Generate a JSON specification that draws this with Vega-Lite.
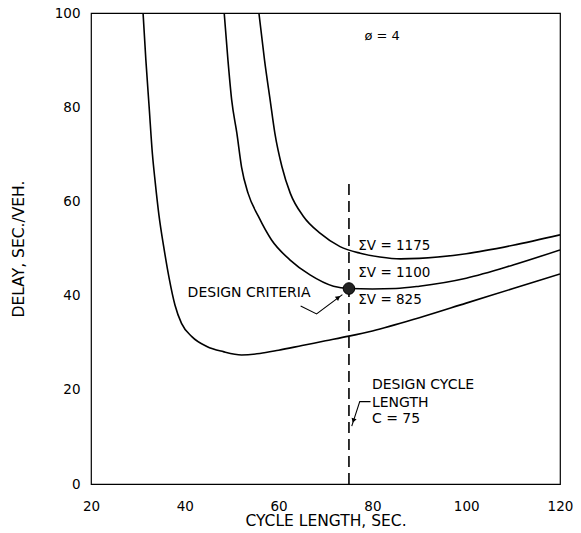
{
  "$schema": "https://vega.github.io/schema/vega-lite/v6.json",
  "width": 469,
  "height": 471,
  "autosize": "none",
  "padding": {"left": 91, "top": 13, "right": 21, "bottom": 49},
  "background": "white",
  "config": {
    "view": {"stroke": "black", "strokeWidth": 1.2},
    "axis": {
      "domain": false,
      "grid": false,
      "ticks": false,
      "labelColor": "black",
      "labelFont": "DejaVu Sans",
      "labelFontSize": 13.5,
      "labelFlush": false,
      "titleFont": "DejaVu Sans",
      "titleFontSize": 15.5,
      "titleFontWeight": "normal",
      "titleColor": "black"
    },
    "text": {"font": "DejaVu Sans", "fontSize": 15.5, "color": "black"}
  },
  "resolve": {"axis": {"x": "independent", "y": "independent"}},
  "datasets": {
    "curves": [
      {"volume": "825", "cycle": 31.1, "delay": 100},
      {"volume": "825", "cycle": 31.7, "delay": 90},
      {"volume": "825", "cycle": 32.4, "delay": 80},
      {"volume": "825", "cycle": 33.1, "delay": 70},
      {"volume": "825", "cycle": 33.7, "delay": 64},
      {"volume": "825", "cycle": 34.5, "delay": 57},
      {"volume": "825", "cycle": 35.5, "delay": 50.4},
      {"volume": "825", "cycle": 36.7, "delay": 43.5},
      {"volume": "825", "cycle": 37.9, "delay": 38.0},
      {"volume": "825", "cycle": 39.3, "delay": 34.1},
      {"volume": "825", "cycle": 41.5, "delay": 31.3},
      {"volume": "825", "cycle": 44.7, "delay": 29.2},
      {"volume": "825", "cycle": 48.2, "delay": 28.1},
      {"volume": "825", "cycle": 52.1, "delay": 27.4},
      {"volume": "825", "cycle": 56, "delay": 27.7},
      {"volume": "825", "cycle": 60, "delay": 28.4},
      {"volume": "825", "cycle": 65, "delay": 29.4},
      {"volume": "825", "cycle": 70, "delay": 30.4},
      {"volume": "825", "cycle": 75, "delay": 31.4},
      {"volume": "825", "cycle": 80, "delay": 32.5},
      {"volume": "825", "cycle": 90, "delay": 35.3},
      {"volume": "825", "cycle": 100, "delay": 38.4},
      {"volume": "825", "cycle": 110, "delay": 41.5},
      {"volume": "825", "cycle": 120, "delay": 44.6},
      {"volume": "1100", "cycle": 48.4, "delay": 100},
      {"volume": "1100", "cycle": 49.2, "delay": 90},
      {"volume": "1100", "cycle": 50.0, "delay": 81.5},
      {"volume": "1100", "cycle": 51.1, "delay": 74.5},
      {"volume": "1100", "cycle": 52.1, "delay": 67.3},
      {"volume": "1100", "cycle": 53.5, "delay": 61.7},
      {"volume": "1100", "cycle": 55.7, "delay": 56.8},
      {"volume": "1100", "cycle": 58.5, "delay": 51.8},
      {"volume": "1100", "cycle": 62.4, "delay": 47.6},
      {"volume": "1100", "cycle": 66.7, "delay": 44.4},
      {"volume": "1100", "cycle": 71.7, "delay": 42.0},
      {"volume": "1100", "cycle": 75, "delay": 41.5},
      {"volume": "1100", "cycle": 80, "delay": 41.4},
      {"volume": "1100", "cycle": 85, "delay": 41.5},
      {"volume": "1100", "cycle": 90, "delay": 42.0},
      {"volume": "1100", "cycle": 100, "delay": 43.7},
      {"volume": "1100", "cycle": 110, "delay": 46.5},
      {"volume": "1100", "cycle": 120, "delay": 49.7},
      {"volume": "1175", "cycle": 55.8, "delay": 100},
      {"volume": "1175", "cycle": 57.0, "delay": 90},
      {"volume": "1175", "cycle": 58.2, "delay": 81.5},
      {"volume": "1175", "cycle": 59.2, "delay": 74.5},
      {"volume": "1175", "cycle": 60.7, "delay": 67.4},
      {"volume": "1175", "cycle": 62.5, "delay": 61.7},
      {"volume": "1175", "cycle": 65.3, "delay": 56.8},
      {"volume": "1175", "cycle": 68.9, "delay": 53.2},
      {"volume": "1175", "cycle": 73.1, "delay": 50.4},
      {"volume": "1175", "cycle": 77.4, "delay": 49.0},
      {"volume": "1175", "cycle": 81.6, "delay": 48.2},
      {"volume": "1175", "cycle": 86, "delay": 47.8},
      {"volume": "1175", "cycle": 90, "delay": 47.9},
      {"volume": "1175", "cycle": 100, "delay": 48.9},
      {"volume": "1175", "cycle": 110, "delay": 50.7},
      {"volume": "1175", "cycle": 120, "delay": 52.9}
    ],
    "labels": [
      {"label": "ø = 4", "cycle": 78.3, "delay": 95.2, "kind": "note"},
      {"label": "ΣV = 1175", "cycle": 77, "delay": 50.6, "kind": "sum"},
      {"label": "ΣV = 1100", "cycle": 77, "delay": 44.7, "kind": "sum"},
      {"label": "ΣV =  825", "cycle": 77, "delay": 39, "kind": "sum"},
      {"label": "DESIGN CRITERIA", "cycle": 40.6, "delay": 40.5, "kind": "design"},
      {"label": "DESIGN CYCLE", "cycle": 79.9, "delay": 21, "kind": "design"},
      {"label": "LENGTH", "cycle": 79.9, "delay": 17.3, "kind": "design"},
      {"label": "C = 75", "cycle": 79.9, "delay": 13.7, "kind": "design"}
    ],
    "leaders": [
      {"leader": "criteria", "step": 1, "cycle": 64.7, "delay": 37.8},
      {"leader": "criteria", "step": 2, "cycle": 68.1, "delay": 36.1},
      {"leader": "criteria", "step": 3, "cycle": 73.6, "delay": 40.2},
      {"leader": "cycle", "step": 1, "cycle": 79.6, "delay": 17.5},
      {"leader": "cycle", "step": 2, "cycle": 77.3, "delay": 17.5},
      {"leader": "cycle", "step": 3, "cycle": 75.6, "delay": 12.3}
    ],
    "heads": [
      {"cycle": 72.6, "delay": 39.5, "angle": 53},
      {"cycle": 76.0, "delay": 13.6, "angle": 198}
    ],
    "design": [
      {"cycle": 75, "delay": 41.5, "floor": 0, "top": 64}
    ]
  },
  "layer": [
    {
      "data": {"name": "curves"},
      "mark": {"type": "line", "interpolate": "monotone", "color": "black", "strokeWidth": 1.6, "clip": true},
      "encoding": {
        "x": {
          "field": "cycle", "type": "quantitative",
          "scale": {"domain": [20, 120], "nice": false},
          "axis": {"values": [20, 40, 60, 80, 100, 120], "labelPadding": 15, "title": "CYCLE LENGTH, SEC.", "titlePadding": 1}
        },
        "y": {
          "field": "delay", "type": "quantitative",
          "scale": {"domain": [0, 100], "nice": false},
          "axis": {"values": [0, 20, 40, 60, 80, 100], "labelPadding": 11, "title": "DELAY, SEC./VEH.", "titlePadding": 28}
        },
        "detail": {"field": "volume"}
      }
    },
    {
      "data": {"name": "design"},
      "mark": {"type": "rule", "color": "black", "strokeWidth": 1.6, "strokeDash": [11, 6]},
      "encoding": {
        "x": {"field": "cycle", "type": "quantitative", "axis": null},
        "y": {"field": "floor", "type": "quantitative", "axis": null},
        "y2": {"field": "top"}
      }
    },
    {
      "data": {"name": "leaders"},
      "mark": {"type": "line", "color": "black", "strokeWidth": 1.1},
      "encoding": {
        "x": {"field": "cycle", "type": "quantitative", "axis": null},
        "y": {"field": "delay", "type": "quantitative", "axis": null},
        "detail": {"field": "leader"},
        "order": {"field": "step", "type": "quantitative"}
      }
    },
    {
      "data": {"name": "heads"},
      "mark": {"type": "point", "shape": "triangle", "filled": true, "color": "black", "size": 28, "opacity": 1},
      "encoding": {
        "x": {"field": "cycle", "type": "quantitative", "axis": null},
        "y": {"field": "delay", "type": "quantitative", "axis": null},
        "angle": {"field": "angle", "type": "quantitative", "scale": null}
      }
    },
    {
      "data": {"name": "design"},
      "mark": {"type": "point", "shape": "circle", "filled": true, "color": "#222", "size": 135, "opacity": 1, "stroke": "black", "strokeWidth": 1},
      "encoding": {
        "x": {"field": "cycle", "type": "quantitative", "axis": null},
        "y": {"field": "delay", "type": "quantitative", "axis": null}
      }
    },
    {
      "data": {"name": "labels"},
      "mark": {"type": "text", "align": "left", "baseline": "middle"},
      "encoding": {
        "x": {"field": "cycle", "type": "quantitative", "axis": null},
        "y": {"field": "delay", "type": "quantitative", "axis": null},
        "text": {"field": "label", "type": "nominal"},
        "size": {
          "field": "kind", "type": "nominal", "legend": null,
          "scale": {"domain": ["note", "sum", "design"], "range": [13, 14, 15.5]}
        }
      }
    }
  ]
}
